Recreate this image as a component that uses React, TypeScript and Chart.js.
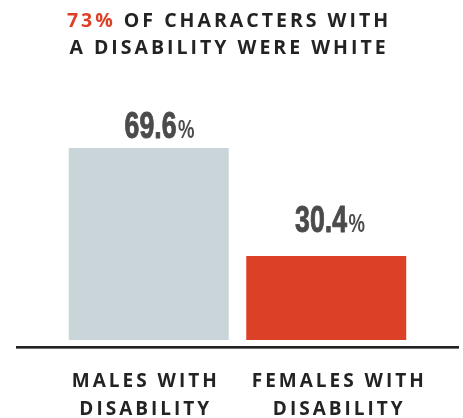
import React, { useEffect, useRef } from "react";
import { Chart, registerables } from "chart.js";

Chart.register(...registerables);

// ---- data ----
const categories: string[][] = [
  ["MALES WITH", "DISABILITY"],
  ["FEMALES WITH", "DISABILITY"],
];
const shares: number[] = [69.6, 30.4];
const barColors: string[] = ["#c9d5d8", "#dc4127"];
const titleHighlight = "73%";
const titleLines: string[] = [" OF CHARACTERS WITH", "A DISABILITY WERE WHITE"];

// ---- style constants ----
const W = 463;
const H = 418;
const DARK = "#232323";
const RED = "#dc4127";
const VALUE_COLOR = "#4b4b4b";
const TITLE_FONT = "bold 19.5px 'Open Sans', 'Liberation Sans', sans-serif";
const CAT_FONT = "bold 19px 'Open Sans', 'Liberation Sans', sans-serif";
const NUM_FONT = "bold 36px 'Liberation Sans', 'DejaVu Sans', sans-serif";
const PCT_FONT = "bold 25px 'Liberation Sans', 'DejaVu Sans', sans-serif";
const valueLabelShift = [
  { dx: 10, dy: -10 },
  { dx: 3, dy: -24 },
];
const catLabelShift = [-3, 13];

const decorPlugin = {
  id: "decor",
  afterDatasetsDraw(chart: any) {
    const { ctx, chartArea } = chart;
    const xScale = chart.scales.x;
    ctx.save();

    // baseline rule
    ctx.fillStyle = DARK;
    ctx.fillRect(chartArea.left - 44, chartArea.bottom + 6, chartArea.right - chartArea.left + 88, 2);
    ctx.fillStyle = "#707070";
    ctx.fillRect(chartArea.left - 44, chartArea.bottom + 8, chartArea.right - chartArea.left + 88, 1);

    // value labels
    const meta = chart.getDatasetMeta(0);
    meta.data.forEach((el: any, i: number) => {
      const num = shares[i].toFixed(1);
      const pct = "%";
      const sx = 0.74;
      ctx.save();
      ctx.translate(el.x + valueLabelShift[i].dx, el.y + valueLabelShift[i].dy);
      ctx.scale(sx, 1);
      ctx.fillStyle = VALUE_COLOR;
      ctx.strokeStyle = VALUE_COLOR;
      ctx.lineWidth = 0.9;
      ctx.lineJoin = "round";
      ctx.textBaseline = "alphabetic";
      ctx.textAlign = "left";
      ctx.font = NUM_FONT;
      const wn = ctx.measureText(num).width;
      ctx.font = PCT_FONT;
      const wp = ctx.measureText(pct).width;
      const start = -(wn + wp) / 2;
      ctx.font = NUM_FONT;
      ctx.fillText(num, start, 0);
      ctx.strokeText(num, start, 0);
      ctx.font = PCT_FONT;
      ctx.fillText(pct, start + wn + 2, 0);
      ctx.restore();
    });

    // category labels
    ctx.fillStyle = DARK;
    ctx.font = CAT_FONT;
    (ctx as any).letterSpacing = "3px";
    ctx.textAlign = "center";
    ctx.textBaseline = "alphabetic";
    categories.forEach((lines, i) => {
      const x = xScale.getPixelForValue(i) + catLabelShift[i];
      lines.forEach((line, j) => {
        ctx.fillText(line, x, chartArea.bottom + 47 + j * 28);
      });
    });

    // title
    ctx.font = TITLE_FONT;
    (ctx as any).letterSpacing = "3px";
    ctx.textAlign = "left";
    const cx = 229;
    const wh = ctx.measureText(titleHighlight).width;
    const wr = ctx.measureText(titleLines[0]).width;
    const x0 = cx - (wh + wr) / 2;
    ctx.fillStyle = RED;
    ctx.fillText(titleHighlight, x0, 27);
    ctx.fillStyle = DARK;
    ctx.fillText(titleLines[0], x0 + wh, 27);
    ctx.textAlign = "center";
    ctx.fillText(titleLines[1], cx, 54);

    ctx.restore();
  },
};

export default function App() {
  const ref = useRef<HTMLCanvasElement | null>(null);
  useEffect(() => {
    if (!ref.current) return;
    const chart = new Chart(ref.current, {
      type: "bar",
      data: {
        labels: categories.map((c) => c.join(" ")),
        datasets: [
          {
            data: shares,
            backgroundColor: barColors,
            borderWidth: 0,
            barPercentage: 0.9014,
            categoryPercentage: 1,
          },
        ],
      },
      options: {
        animation: false,
        responsive: false,
        devicePixelRatio: 1,
        layout: { padding: { top: 64, bottom: 78, left: 60, right: 48 } },
        scales: {
          x: { display: false },
          y: { display: false, min: 0, max: 100 },
        },
        plugins: {
          legend: { display: false },
          tooltip: { enabled: false },
          title: { display: false },
        },
      },
      plugins: [decorPlugin],
    });
    return () => chart.destroy();
  }, []);
  return (
    <div style={{ position: "absolute", left: 0, top: 0, width: W, height: H, background: "#fff" }}>
      <canvas ref={ref} width={W} height={H} style={{ display: "block" }} />
    </div>
  );
}
